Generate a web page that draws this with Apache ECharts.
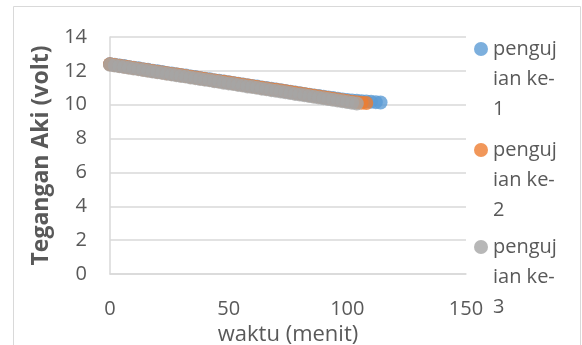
<!DOCTYPE html>
<html>
<head>
<meta charset="utf-8">
<script src="https://cdn.jsdelivr.net/npm/echarts@6/dist/echarts.min.js"></script>
<style>
  html, body { margin: 0; padding: 0; background: #ffffff; }
  #chart { width: 582px; height: 345px; }
</style>
</head>
<body>
<div id="chart"></div>
<script>
// Battery voltage readings, one every 2 minutes
const waktu = [0, 2, 4, 6, 8, 10, 12, 14, 16, 18, 20, 22, 24, 26, 28, 30, 32, 34, 36, 38,
  40, 42, 44, 46, 48, 50, 52, 54, 56, 58, 60, 62, 64, 66, 68, 70, 72, 74, 76, 78,
  80, 82, 84, 86, 88, 90, 92, 94, 96, 98, 100, 102, 104, 106, 108, 110, 112, 114];

const seriesNames = ['pengujian ke-1', 'pengujian ke-2', 'pengujian ke-3'];

const tegangan1 = [12.40, 12.36, 12.32, 12.28, 12.23, 12.19, 12.15, 12.10, 12.06, 12.01,
  11.97, 11.93, 11.88, 11.84, 11.80, 11.76, 11.72, 11.67, 11.63, 11.58,
  11.54, 11.50, 11.45, 11.41, 11.37, 11.33, 11.29, 11.24, 11.20, 11.15,
  11.11, 11.07, 11.02, 10.98, 10.94, 10.90, 10.86, 10.81, 10.77, 10.72,
  10.68, 10.64, 10.59, 10.55, 10.51, 10.47, 10.43, 10.39, 10.35, 10.31,
  10.28, 10.25, 10.23, 10.21, 10.19, 10.17, 10.15, 10.13];

const tegangan2 = [12.39, 12.35, 12.30, 12.26, 12.21, 12.17, 12.13, 12.08, 12.04, 11.99,
  11.95, 11.91, 11.86, 11.82, 11.78, 11.74, 11.70, 11.65, 11.61, 11.56,
  11.52, 11.48, 11.43, 11.39, 11.35, 11.31, 11.27, 11.22, 11.18, 11.13,
  11.09, 11.05, 11.00, 10.96, 10.92, 10.88, 10.84, 10.79, 10.75, 10.70,
  10.66, 10.62, 10.57, 10.53, 10.48, 10.44, 10.40, 10.35, 10.31, 10.26,
  10.22, 10.18, 10.15, 10.12, 10.10];

const tegangan3 = [12.36, 12.32, 12.27, 12.23, 12.18, 12.14, 12.10, 12.05, 12.01, 11.96,
  11.92, 11.88, 11.83, 11.79, 11.74, 11.70, 11.66, 11.61, 11.57, 11.52,
  11.48, 11.44, 11.39, 11.35, 11.30, 11.26, 11.22, 11.17, 11.13, 11.08,
  11.04, 11.00, 10.95, 10.91, 10.86, 10.82, 10.78, 10.73, 10.69, 10.64,
  10.60, 10.56, 10.51, 10.47, 10.42, 10.38, 10.34, 10.29, 10.25, 10.20,
  10.16, 10.12, 10.07];

const xTicks = { min: 0, max: 150, interval: 50 };
const yTicks = { min: 0, max: 14, interval: 2 };

const colors = ['#5b9bd5', '#ed7d31', '#a5a5a5'];
const FONT = '"Open Sans", "Noto Sans", sans-serif';
const TEXT = '#595959';
const LINE = '#d9d9d9';

function pairs(values) {
  return values.map((v, i) => [waktu[i], v]);
}

// Legend text wraps inside a narrow column; two leading empty lines keep
// the first text line level with the marker
function wrapName(name) {
  return '\n\n' + name.slice(0, 6) + '\n' + name.slice(6, 13) + '\n' + name.slice(13);
}

const legendTops = [-26, 75, 172];
const legends = seriesNames.map((name, i) => ({
  data: [name],
  orient: 'vertical',
  left: 474,
  top: legendTops[i],
  padding: 0,
  icon: 'circle',
  itemWidth: 14,
  itemHeight: 14,
  itemGap: 0,
  selectedMode: false,
  formatter: wrapName,
  textStyle: {
    fontFamily: FONT,
    fontSize: 20,
    color: TEXT,
    lineHeight: 30
  }
}));

const chart = echarts.init(document.getElementById('chart'), null, { renderer: 'canvas' });

chart.setOption({
  animation: false,
  color: colors,
  graphic: [{
    type: 'rect',
    shape: { x: 13.5, y: 6.5, width: 567, height: 350 },
    style: { fill: 'none', stroke: LINE, lineWidth: 1 },
    silent: true,
    z: -10
  }],
  legend: legends,
  grid: { left: 110, right: 116, top: 37, bottom: 71, containLabel: false, outerBoundsMode: 'none' },
  xAxis: {
    type: 'value',
    min: xTicks.min,
    max: xTicks.max,
    interval: xTicks.interval,
    name: 'waktu (menit)',
    nameLocation: 'middle',
    nameGap: 47,
    nameTextStyle: { fontFamily: FONT, fontSize: 22, color: TEXT },
    axisLine: { show: true, lineStyle: { color: LINE, width: 1.5 } },
    axisTick: { show: false },
    splitLine: { show: false },
    axisLabel: { fontFamily: FONT, fontSize: 20, color: TEXT, margin: 25 }
  },
  yAxis: {
    type: 'value',
    min: yTicks.min,
    max: yTicks.max,
    interval: yTicks.interval,
    name: 'Tegangan Aki (volt)',
    nameLocation: 'middle',
    nameGap: 57,
    nameTextStyle: { fontFamily: FONT, fontSize: 23, fontWeight: 'bold', color: TEXT },
    axisLine: { show: true, lineStyle: { color: LINE, width: 1.5 } },
    axisTick: { show: false },
    splitLine: { show: true, lineStyle: { color: LINE, width: 1.5 } },
    axisLabel: { fontFamily: FONT, fontSize: 20, color: TEXT, margin: 23 }
  },
  series: [
    { name: seriesNames[0], type: 'scatter', symbol: 'circle', symbolSize: 14, data: pairs(tegangan1) },
    { name: seriesNames[1], type: 'scatter', symbol: 'circle', symbolSize: 14, data: pairs(tegangan2) },
    { name: seriesNames[2], type: 'scatter', symbol: 'circle', symbolSize: 14, data: pairs(tegangan3) }
  ]
});
</script>
</body>
</html>
